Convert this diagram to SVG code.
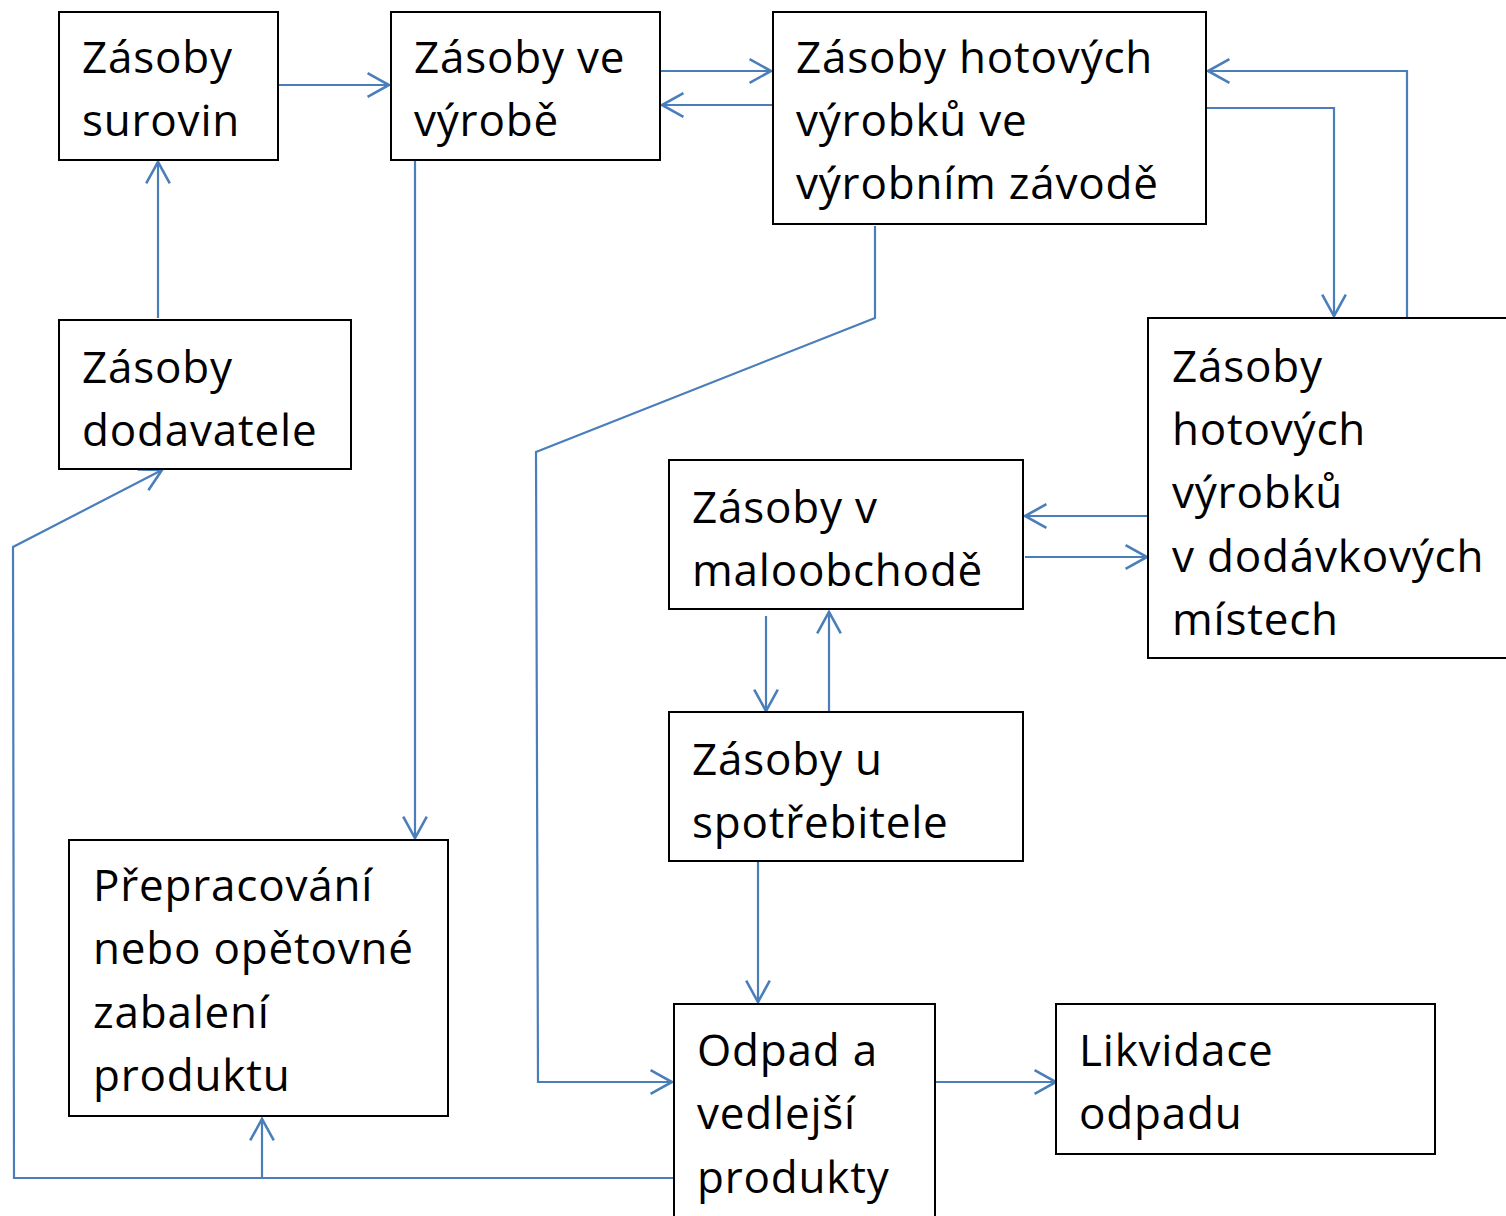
<svg xmlns="http://www.w3.org/2000/svg" width="1506" height="1216" viewBox="0 0 1506 1216">
<style>
.box{fill:#fff;stroke:#000;stroke-width:2}
.t{font-family:"Open Sans","Liberation Sans",sans-serif;font-size:44px;letter-spacing:0.8px;fill:#000}
.c{fill:none;stroke:#4a7ebb;stroke-width:2.2}
</style>
<defs>
<marker id="a" markerUnits="userSpaceOnUse" markerWidth="30" markerHeight="30" viewBox="-24 -14 28 28" refX="0" refY="0" orient="auto">
<path d="M-20,-11 L0,0 L-20,11" fill="none" stroke="#4a7ebb" stroke-width="2.4"/>
</marker>
</defs>
<g id="connectors">
<path class="c" d="M278,85 H389" marker-end="url(#a)"/>
<path class="c" d="M158,318 V162" marker-end="url(#a)"/>
<path class="c" d="M660,71 H771" marker-end="url(#a)"/>
<path class="c" d="M778,105 H662" marker-end="url(#a)"/>
<path class="c" d="M1407,318 V71 H1208" marker-end="url(#a)"/>
<path class="c" d="M1206,108 H1334 V316" marker-end="url(#a)"/>
<path class="c" d="M415,160 V838" marker-end="url(#a)"/>
<path class="c" d="M875,226 V318 L536,452 L538,1082 H672" marker-end="url(#a)"/>
<path class="c" d="M1150,516 H1025" marker-end="url(#a)"/>
<path class="c" d="M1025,557 H1147" marker-end="url(#a)"/>
<path class="c" d="M766,616 V711" marker-end="url(#a)"/>
<path class="c" d="M829,711 V612" marker-end="url(#a)"/>
<path class="c" d="M758,862 V1002" marker-end="url(#a)"/>
<path class="c" d="M935,1082 H1056" marker-end="url(#a)"/>
<path class="c" d="M674,1178 H14 L13,547 L162,470" marker-end="url(#a)"/>
<path class="c" d="M262,1178 V1119" marker-end="url(#a)"/>
</g>
<g id="n1"><rect class="box" x="59" y="12" width="219" height="148"/><text class="t" x="82" y="73">Zásoby</text><text class="t" x="82" y="136">surovin</text></g>
<g id="n2"><rect class="box" x="391" y="12" width="269" height="148"/><text class="t" x="414" y="73">Zásoby ve</text><text class="t" x="414" y="136">výrobě</text></g>
<g id="n3"><rect class="box" x="773" y="12" width="433" height="212"/><text class="t" x="796" y="73">Zásoby hotových</text><text class="t" x="796" y="136">výrobků ve</text><text class="t" x="796" y="199">výrobním závodě</text></g>
<g id="n4"><rect class="box" x="59" y="320" width="292" height="149"/><text class="t" x="82" y="383">Zásoby</text><text class="t" x="82" y="446">dodavatele</text></g>
<g id="n5"><rect class="box" x="1148" y="318" width="362" height="340"/><text class="t" x="1172" y="382">Zásoby</text><text class="t" x="1172" y="445">hotových</text><text class="t" x="1172" y="508">výrobků</text><text class="t" x="1172" y="572">v dodávkových</text><text class="t" x="1172" y="635">místech</text></g>
<g id="n6"><rect class="box" x="669" y="460" width="354" height="149"/><text class="t" x="692" y="523">Zásoby v</text><text class="t" x="692" y="586">maloobchodě</text></g>
<g id="n7"><rect class="box" x="669" y="712" width="354" height="149"/><text class="t" x="692" y="775">Zásoby u</text><text class="t" x="692" y="838">spotřebitele</text></g>
<g id="n8"><rect class="box" x="69" y="840" width="379" height="276"/><text class="t" x="93" y="901">Přepracování</text><text class="t" x="93" y="964">nebo opětovné</text><text class="t" x="93" y="1028">zabalení</text><text class="t" x="93" y="1091">produktu</text></g>
<g id="n9"><rect class="box" x="674" y="1004" width="261" height="220"/><text class="t" x="697" y="1066">Odpad a</text><text class="t" x="697" y="1129">vedlejší</text><text class="t" x="697" y="1193">produkty</text></g>
<g id="n10"><rect class="box" x="1056" y="1004" width="379" height="150"/><text class="t" x="1079" y="1066">Likvidace</text><text class="t" x="1079" y="1129">odpadu</text></g>
</svg>
